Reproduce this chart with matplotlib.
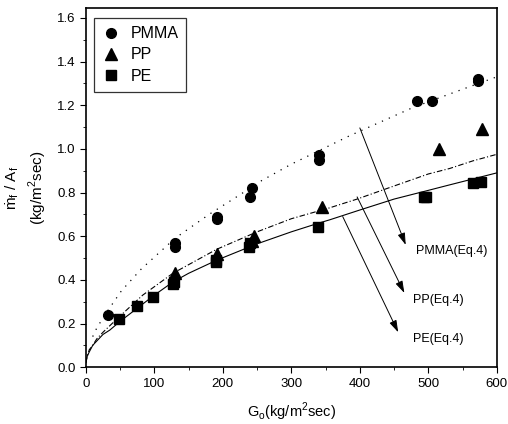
import matplotlib
matplotlib.use("Agg")
import matplotlib.pyplot as plt
from matplotlib.ticker import MultipleLocator

plt.rcParams['font.family'] = ['Liberation Sans Narrow', 'Liberation Sans', 'DejaVu Sans']
plt.rcParams['mathtext.fontset'] = 'custom'
plt.rcParams['mathtext.rm'] = 'Liberation Sans'

# measured points
pmma_x = [32, 130, 130, 192, 192, 240, 242, 340, 340, 483, 505, 573, 573]
pmma_y = [0.24, 0.57, 0.55, 0.69, 0.68, 0.78, 0.82, 0.97, 0.95, 1.22, 1.22, 1.32, 1.31]

pp_x = [130, 192, 242, 245, 345, 515, 579]
pp_y = [0.43, 0.52, 0.58, 0.60, 0.735, 1.00, 1.09]

pe_x = [48, 75, 98, 127, 128, 190, 190, 238, 240, 339, 493, 497, 565, 577]
pe_y = [0.22, 0.28, 0.32, 0.38, 0.39, 0.48, 0.49, 0.55, 0.57, 0.64, 0.78, 0.78, 0.845, 0.85]

# Eq.4 curves
pmma_cx = [10, 16, 30, 52, 81, 130, 180, 225, 254, 300, 385, 478, 556, 600]
pmma_cy = [0.14, 0.18, 0.25, 0.35, 0.45, 0.59, 0.70, 0.79, 0.85, 0.93, 1.06, 1.19, 1.28, 1.33]

pp_cx = [0, 2, 5, 10, 16, 25, 45, 83, 127, 191, 250, 300, 356, 396, 450, 500, 531, 565, 600]
pp_cy = [0.02, 0.05, 0.08, 0.10, 0.13, 0.16, 0.22, 0.33, 0.43, 0.54, 0.62, 0.68, 0.73, 0.77, 0.83, 0.885, 0.91, 0.945, 0.975]

pe_cx = [0, 2, 5, 10, 16, 25, 35, 50, 75, 100, 127, 150, 191, 250, 300, 340, 356, 400, 450, 500, 531, 600]
pe_cy = [0.02, 0.05, 0.07, 0.10, 0.12, 0.15, 0.17, 0.21, 0.27, 0.33, 0.39, 0.43, 0.49, 0.565, 0.62, 0.66, 0.675, 0.72, 0.77, 0.81, 0.835, 0.89]

# arrow labels: (text, text position, arrow start on curve)
labels = ['PMMA(Eq.4)', 'PP(Eq.4)', 'PE(Eq.4)']
label_xy = [(482, 0.53), (477, 0.31), (477, 0.13)]
arrow_tail = [(400, 1.096), (396, 0.78), (375, 0.69)]
arrow_head = [(467, 0.56), (465, 0.34), (456, 0.16)]

fig = plt.figure(figsize=(5.08, 4.24), dpi=100)
ax = fig.add_axes([0.169, 0.134, 0.809, 0.847])

ax.plot(pmma_cx, pmma_cy, color='k', lw=0.9, linestyle=(0, (1, 5)))
ax.plot(pp_cx, pp_cy, color='k', lw=0.8, linestyle=(0, (5, 2, 1, 2)))
ax.plot(pe_cx, pe_cy, color='k', lw=0.8)

ax.plot(pmma_x, pmma_y, 'o', color='k', ms=7, label='PMMA')
ax.plot(pp_x, pp_y, '^', color='k', ms=8.5, label='PP')
ax.plot(pe_x, pe_y, 's', color='k', ms=6.5, label='PE')

for t, xy, tail, head in zip(labels, label_xy, arrow_tail, arrow_head):
    ax.annotate('', xy=head, xytext=tail,
                arrowprops=dict(arrowstyle='-|>,head_width=0.25,head_length=0.8', color='k', lw=0.7,
                                mutation_scale=9, shrinkA=0, shrinkB=0))
    ax.text(xy[0], xy[1], t, fontsize=9, va='center', ha='left')

ax.set_xlim(0, 600)
ax.set_ylim(0, 1.645)
ax.xaxis.set_major_locator(MultipleLocator(100))
ax.xaxis.set_minor_locator(MultipleLocator(50))
ax.yaxis.set_major_locator(MultipleLocator(0.2))
ax.yaxis.set_minor_locator(MultipleLocator(0.1))
ax.yaxis.set_major_formatter(matplotlib.ticker.FormatStrFormatter('%.1f'))
ax.tick_params(which='major', direction='out', length=4, labelsize=9.5)
ax.tick_params(which='minor', direction='out', length=2.5)
for s in ax.spines.values():
    s.set_linewidth(1.2)

ax.set_xlabel('G$_\\mathrm{o}$(kg/m$^\\mathrm{2}$sec)', fontsize=10.5, labelpad=8)
ax.set_ylabel('\u1e41$_\\mathrm{f}$ / A$_\\mathrm{f}$\n(kg/m$^\\mathrm{2}$sec)',
              fontsize=11, labelpad=6, linespacing=1.3)

leg = ax.legend(loc='upper left', bbox_to_anchor=(0.019, 0.972), borderaxespad=0,
                fontsize=11.5, frameon=True, fancybox=False, handletextpad=0.6,
                labelspacing=0.4, borderpad=0.5, handlelength=1.2)
leg.get_frame().set_edgecolor('k')
leg.get_frame().set_linewidth(0.9)

fig.savefig('out.png', dpi=100)
